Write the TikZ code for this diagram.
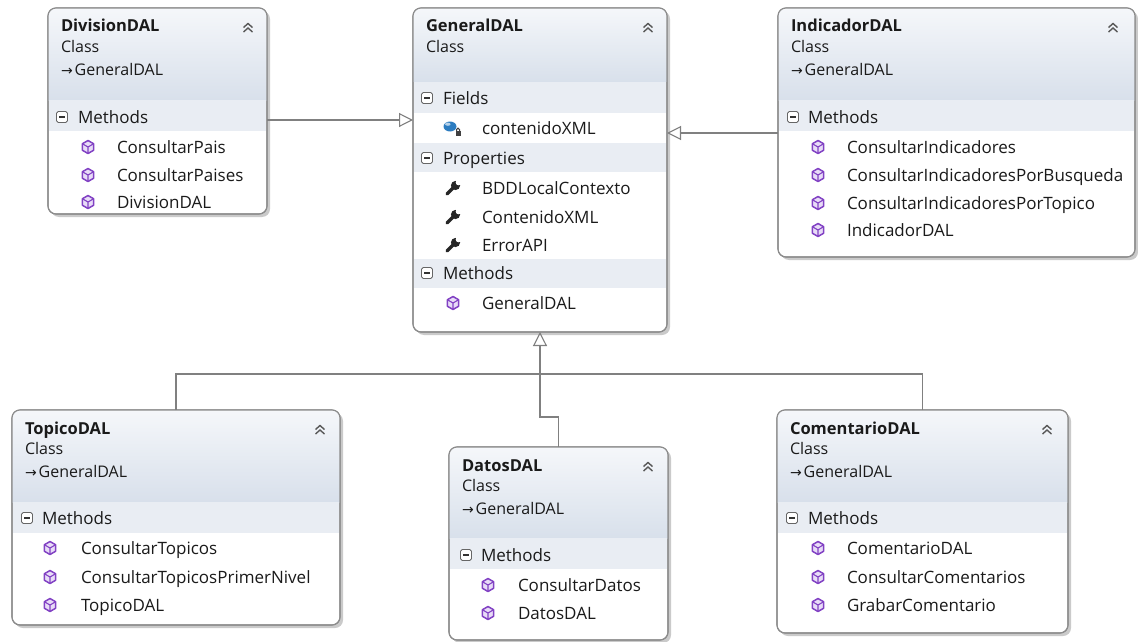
\documentclass[tikz,border=0pt]{standalone}
\usepackage{fontspec}
\setmainfont{Open Sans}
\newfontfamily\symf{DejaVu Sans}
\usetikzlibrary{arrows.meta}
\definecolor{boxc}{HTML}{8C8C8C}
\definecolor{linec}{HTML}{808080}
\definecolor{shadowc}{HTML}{CACACA}
\definecolor{hdrtop}{HTML}{F5F7FA}
\definecolor{hdrbot}{HTML}{D8E0EB}
\definecolor{bandc}{HTML}{E9EDF3}
\definecolor{txt}{HTML}{1A1A1A}
\definecolor{purp}{HTML}{8242C4}
\definecolor{purpf}{HTML}{E8DCF7}
\definecolor{fieldblue}{HTML}{2C7CC0}
\tikzset{
 every node/.style={inner sep=0pt, outer sep=0pt},
 classbox/.style={draw=boxc, line width=1.1pt, fill=white, rounded corners=8pt},
 ttl/.style={anchor=base west, text=txt, font=\bfseries\fontsize{16.5}{18}\selectfont},
 subt/.style={anchor=base west, text=txt, font=\fontsize{16}{18}\selectfont},
 itm/.style={anchor=base west, text=txt, font=\fontsize{17}{19}\selectfont},
 conn/.style={draw=linec, line width=1.1pt},
 inh/.style={conn, -{Triangle[open, length=14pt, width=14pt, line width=1.1pt]}},
 methicon/.pic={
  \draw[purp, fill=purpf, line width=1.5pt, line join=round] (0,-6.5) -- (5.63,-3.25) -- (5.63,3.25) -- (0,6.5) -- (-5.63,3.25) -- (-5.63,-3.25) -- cycle;
  \draw[purp, line width=1.1pt] (-5.63,-3.25) -- (0,0) -- (5.63,-3.25) (0,0) -- (0,6.5);
 },
 toggleicon/.pic={
  \draw[draw=black!60, fill=white, line width=0.9pt, rounded corners=1.8pt] (-5.5,-5.5) rectangle (5.5,5.5);
  \draw[black!80, line width=1.3pt] (-3,0) -- (3,0);
 },
 collapseicon/.pic={
  \draw[black!65, line width=1.4pt] (-4.5,0.5) -- (0,-3.5) -- (4.5,0.5);
  \draw[black!65, line width=1.4pt] (-4.5,5) -- (0,1) -- (4.5,5);
 },
 wrenchicon/.pic={
  \draw[black!85, line width=3.3pt, line cap=round] (-6,6) -- (1,-1);
  \fill[black!85] (2.5,-2.5) circle (4.6);
  \fill[white] (5.5,-5.5) circle (2.8);
 },
 fieldicon/.pic={
  \fill[fieldblue] (-3,-1.5) ellipse (6.5 and 5);
  \fill[fieldblue!35!white] (-5.2,-3.8) ellipse (2.8 and 1.6);
  \fill[black!75] (2.5,3) rectangle (7.5,8);
  \draw[black!75, line width=1pt] (3.5,3) -- (3.5,1.6) arc (180:360:1.5) -- (6.5,3);
 },
}
\newcommand\umlbox[6]{%
  \fill[shadowc, rounded corners=8pt] ({#2+3},{#3+3}) rectangle ({#4+3},{#5+3});
  \node[classbox, minimum width={(#4-#2)*1pt}, minimum height={(#5-#3)*1pt}] (#1) at ({(#2+#4)/2},{(#3+#5)/2}) {};
  \begin{scope}
    \clip[rounded corners=8pt] (#2,#3) rectangle (#4,#5);
    \shade[top color=hdrtop, bottom color=hdrbot] (#2,#3) rectangle (#4,#6);
  \end{scope}
}
\newcommand\boxline[1]{\draw[draw=boxc, line width=1.1pt, rounded corners=8pt] (#1.north west) rectangle (#1.south east);}
\newcommand\band[4]{\fill[bandc] ({#1+0.6},#3) rectangle ({#2-0.6},#4);}
\newcommand\hdr[5]{%
  \node[ttl] (#1t) at (#2,{#3+24}) {#4};
  \node[subt] (#1c) at (#2,{#3+44.5}) {Class};
  \pic at (#5,{#3+19}) {collapseicon};
}
\newcommand\inhline[3]{\node[subt] (#1i) at (#2,{#3+67.5}) {{\symf\fontsize{14}{14}\selectfont →}\kern2pt GeneralDAL};}
\newcommand\sect[5]{\pic at (#2,#4) {toggleicon}; \node[itm] (#1) at (#3,{#4+6}) {#5};}
\newcommand\meth[5]{\pic at (#2,#4) {methicon}; \node[itm] (#1) at (#3,{#4+6}) {#5};}
\newcommand\prop[5]{\pic at (#2,#4) {wrenchicon}; \node[itm] (#1) at (#3,{#4+6}) {#5};}
\newcommand\fld[5]{\pic at (#2,#4) {fieldicon}; \node[itm] (#1) at (#3,{#4+6}) {#5};}
\begin{document}
\begin{tikzpicture}[x=1pt, y=-1pt]
\useasboundingbox (0,0) rectangle (1138,642);
\fill[white] (0,0) rectangle (1138,642);

% GeneralDAL
\umlbox{general}{413}{8}{667}{332}{82}
\band{413}{667}{82}{113}
\band{413}{667}{143}{172}
\band{413}{667}{259}{288}
\boxline{general}
\hdr{gen}{426}{8}{GeneralDAL}{648}
\sect{genF}{427}{443}{98}{Fields}
\fld{genf1}{453}{482}{128}{contenidoXML}
\sect{genP}{427}{443}{158}{Properties}
\prop{genp1}{453}{482}{188}{BDDLocalContexto}
\prop{genp2}{453}{482}{217}{ContenidoXML}
\prop{genp3}{453}{482}{245}{ErrorAPI}
\sect{genM}{427}{443}{273}{Methods}
\meth{genm1}{453}{482}{303}{GeneralDAL}

% DivisionDAL
\umlbox{division}{48}{8}{267}{214}{100}
\band{48}{267}{100}{131}
\boxline{division}
\hdr{div}{61}{8}{DivisionDAL}{248}
\inhline{div}{61}{8}
\sect{divM}{62}{78}{117}{Methods}
\meth{divm1}{88}{117}{147}{ConsultarPais}
\meth{divm2}{88}{117}{175}{ConsultarPaises}
\meth{divm3}{88}{117}{202}{DivisionDAL}

% IndicadorDAL
\umlbox{indicador}{778}{8}{1135}{257}{100}
\band{778}{1135}{100}{131}
\boxline{indicador}
\hdr{ind}{791}{8}{IndicadorDAL}{1113}
\inhline{ind}{791}{8}
\sect{indM}{793}{808}{117}{Methods}
\meth{indm1}{818}{847}{147}{ConsultarIndicadores}
\meth{indm2}{818}{847}{175}{ConsultarIndicadoresPorBusqueda}
\meth{indm3}{818}{847}{203}{ConsultarIndicadoresPorTopico}
\meth{indm4}{818}{847}{230}{IndicadorDAL}

% TopicoDAL
\umlbox{topico}{12}{410}{340}{625}{502}
\band{12}{340}{502}{533}
\boxline{topico}
\hdr{top}{25}{410}{TopicoDAL}{320}
\inhline{top}{25}{410}
\sect{topM}{27}{42}{518}{Methods}
\meth{topm1}{50}{81}{548}{ConsultarTopicos}
\meth{topm2}{50}{81}{577}{ConsultarTopicosPrimerNivel}
\meth{topm3}{50}{81}{605}{TopicoDAL}

% DatosDAL
\umlbox{datos}{449}{447}{668}{640}{538}
\band{449}{668}{538}{569}
\boxline{datos}
\hdr{dat}{462}{447}{DatosDAL}{648}
\inhline{dat}{462}{447}
\sect{datM}{466}{481}{555}{Methods}
\meth{datm1}{488}{518}{585}{ConsultarDatos}
\meth{datm2}{488}{518}{613}{DatosDAL}

% ComentarioDAL
\umlbox{comentario}{777}{410}{1068}{633}{502}
\band{777}{1068}{502}{533}
\boxline{comentario}
\hdr{com}{790}{410}{ComentarioDAL}{1047}
\inhline{com}{790}{410}
\sect{comM}{792}{808}{518}{Methods}
\meth{comm1}{818}{847}{548}{ComentarioDAL}
\meth{comm2}{818}{847}{577}{ConsultarComentarios}
\meth{comm3}{818}{847}{605}{GrabarComentario}

% connectors
\coordinate (j) at (540,374);
\coordinate (y120) at (0,120);
\coordinate (y133) at (0,133);
\draw[conn] (topico.north) |- (j);
\draw[conn] (comentario.north) |- (j);
\draw[inh] (datos.north) -- ++(0,-30) -| (general.south);
\draw[inh] (division.east |- y120) -- (general.west |- y120);
\draw[inh] (indicador.west |- y133) -- (general.east |- y133);
\end{tikzpicture}
\end{document}
